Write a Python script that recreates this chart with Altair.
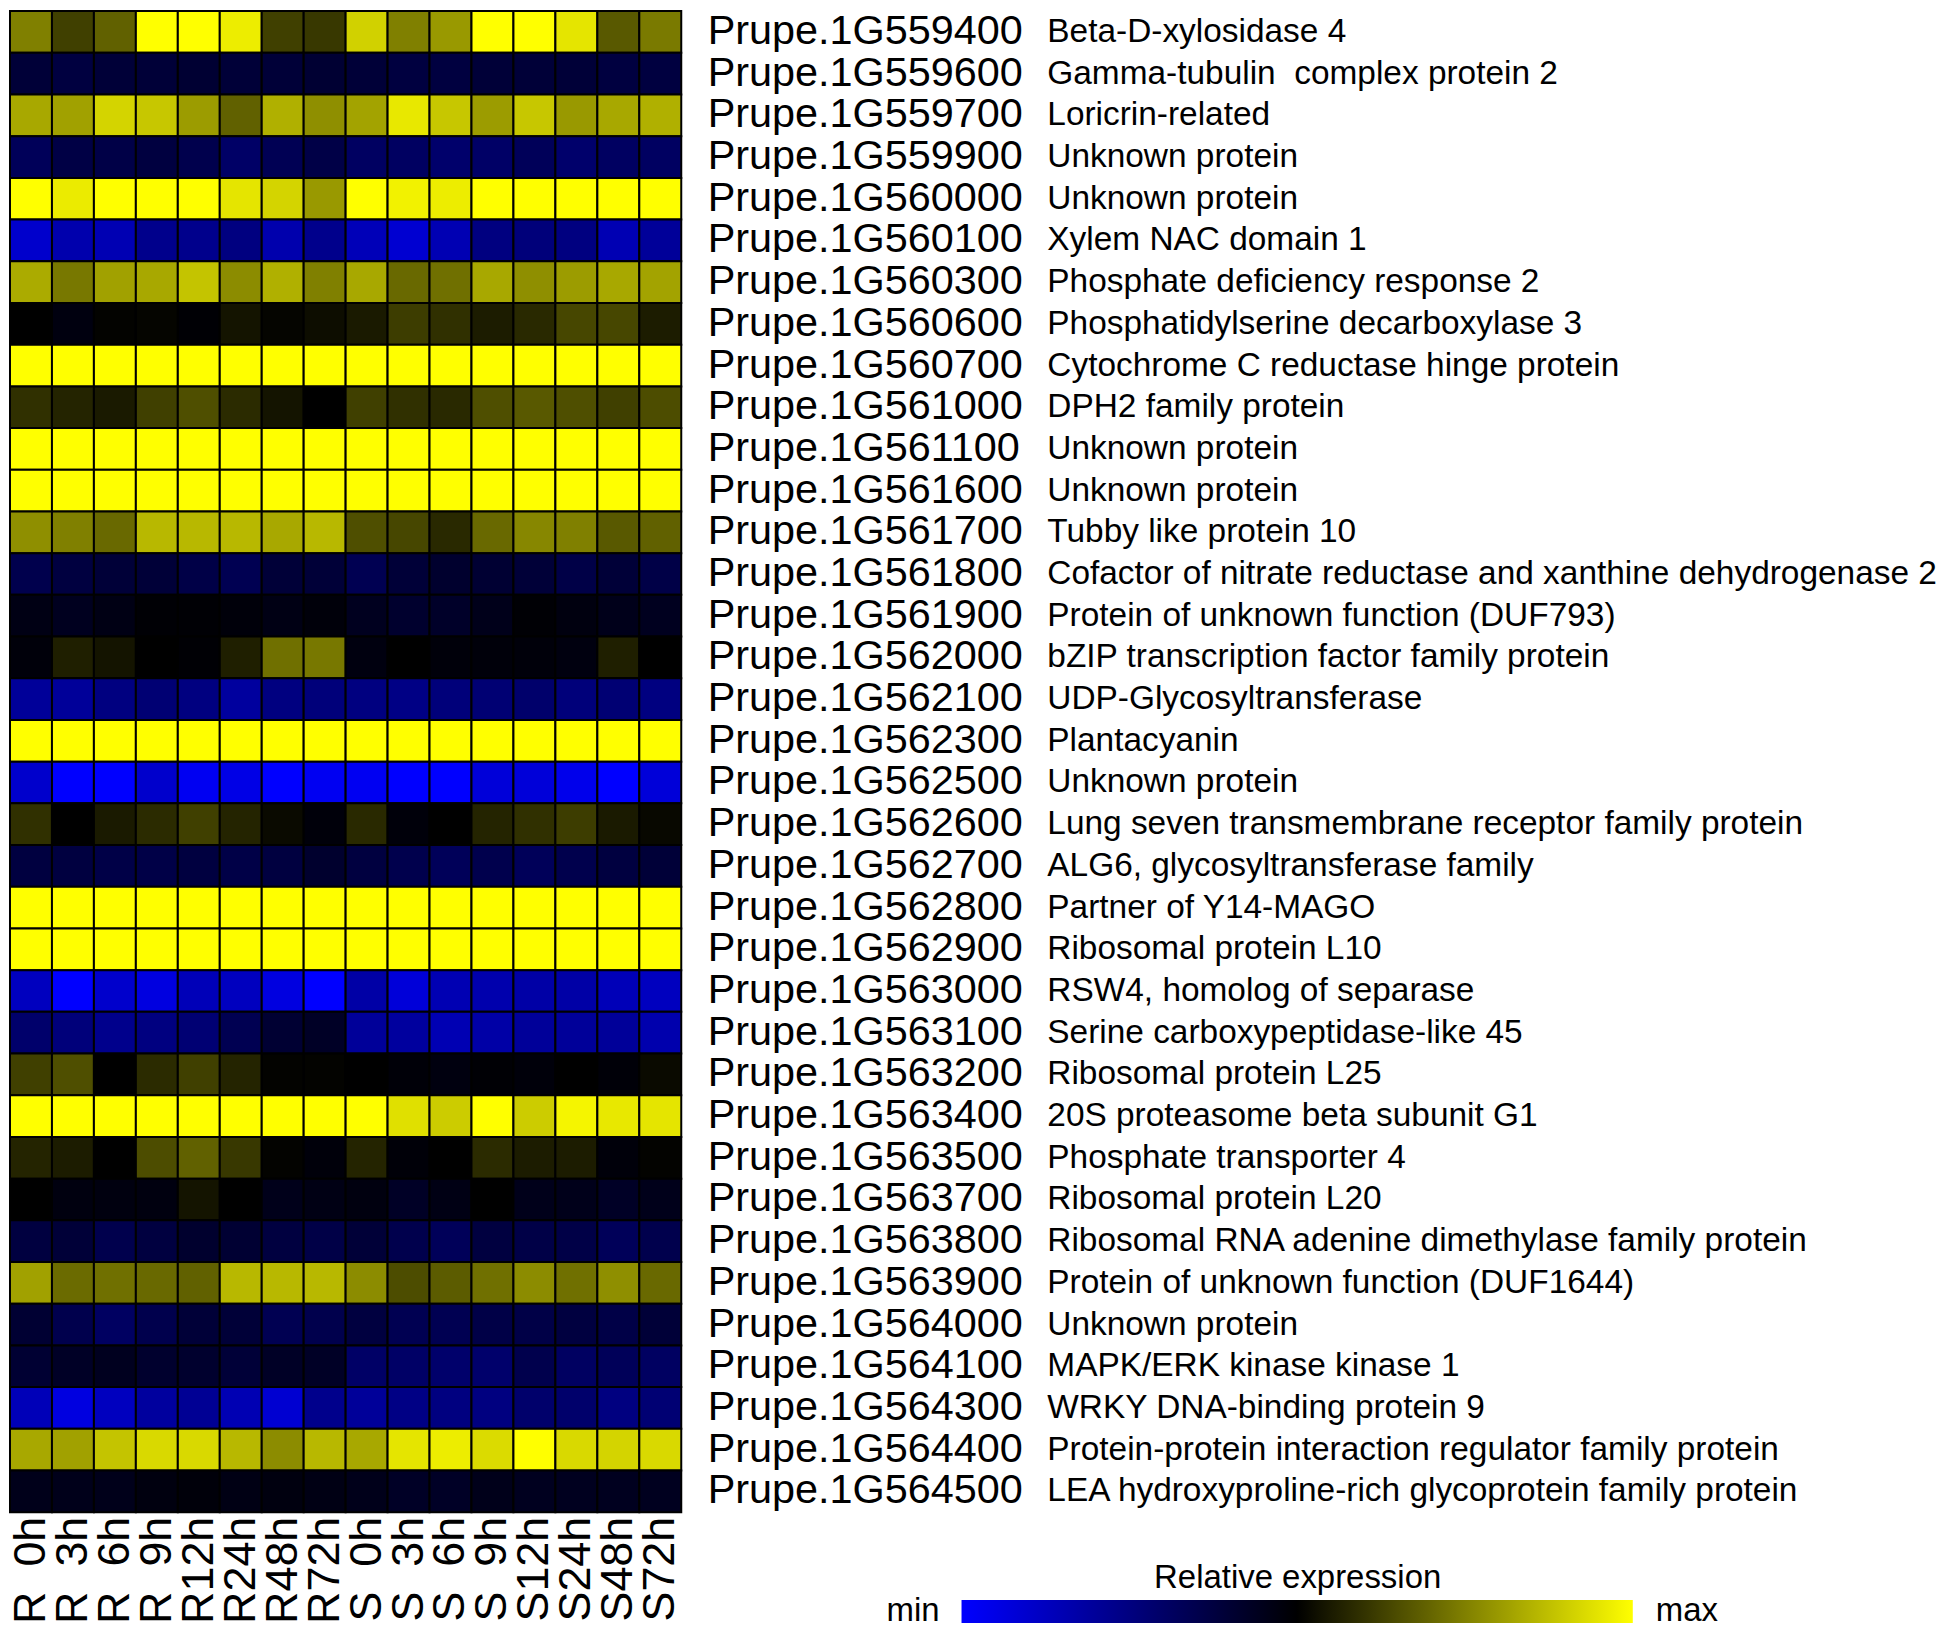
import altair as alt
import pandas as pd

FONT = "Liberation Sans"

columns = ["R\u00a0\u00a00h", "R\u00a0\u00a03h", "R\u00a0\u00a06h", "R\u00a0\u00a09h", "R12h", "R24h", "R48h", "R72h",
           "S\u00a0\u00a00h", "S\u00a0\u00a03h", "S\u00a0\u00a06h", "S\u00a0\u00a09h", "S12h", "S24h", "S48h", "S72h"]

genes = ["Prupe.1G559400", "Prupe.1G559600", "Prupe.1G559700", "Prupe.1G559900", "Prupe.1G560000",
         "Prupe.1G560100", "Prupe.1G560300", "Prupe.1G560600", "Prupe.1G560700", "Prupe.1G561000",
         "Prupe.1G561100", "Prupe.1G561600", "Prupe.1G561700", "Prupe.1G561800", "Prupe.1G561900",
         "Prupe.1G562000", "Prupe.1G562100", "Prupe.1G562300", "Prupe.1G562500", "Prupe.1G562600",
         "Prupe.1G562700", "Prupe.1G562800", "Prupe.1G562900", "Prupe.1G563000", "Prupe.1G563100",
         "Prupe.1G563200", "Prupe.1G563400", "Prupe.1G563500", "Prupe.1G563700", "Prupe.1G563800",
         "Prupe.1G563900", "Prupe.1G564000", "Prupe.1G564100", "Prupe.1G564300", "Prupe.1G564400",
         "Prupe.1G564500"]

descriptions = ["Beta-D-xylosidase 4", "Gamma-tubulin\u00a0 complex protein 2", "Loricrin-related",
                "Unknown protein", "Unknown protein", "Xylem NAC domain 1", "Phosphate deficiency response 2",
                "Phosphatidylserine decarboxylase 3", "Cytochrome C reductase hinge protein",
                "DPH2 family protein", "Unknown protein", "Unknown protein", "Tubby like protein 10",
                "Cofactor of nitrate reductase and xanthine dehydrogenase 2",
                "Protein of unknown function (DUF793)", "bZIP transcription factor family protein",
                "UDP-Glycosyltransferase", "Plantacyanin", "Unknown protein",
                "Lung seven transmembrane receptor family protein", "ALG6, glycosyltransferase family",
                "Partner of Y14-MAGO", "Ribosomal protein L10", "RSW4, homolog of separase",
                "Serine carboxypeptidase-like 45", "Ribosomal protein L25", "20S proteasome beta subunit G1",
                "Phosphate transporter 4", "Ribosomal protein L20",
                "Ribosomal RNA adenine dimethylase family protein",
                "Protein of unknown function (DUF1644)", "Unknown protein", "MAPK/ERK kinase kinase 1",
                "WRKY DNA-binding protein 9", "Protein-protein interaction regulator family protein",
                "LEA hydroxyproline-rich glycoprotein family protein"]

# relative expression: -1 = min (blue), 0 = black, 1 = max (yellow)
values = [
    [0.50, 0.25, 0.38, 1.00, 1.00, 0.93, 0.25, 0.22, 0.82, 0.50, 0.60, 1.00, 1.00, 0.90, 0.35, 0.48],
    [-0.22, -0.25, -0.22, -0.22, -0.20, -0.22, -0.22, -0.20, -0.22, -0.25, -0.25, -0.22, -0.22, -0.22, -0.25, -0.25],
    [0.66, 0.63, 0.83, 0.78, 0.61, 0.38, 0.69, 0.56, 0.64, 0.91, 0.78, 0.61, 0.78, 0.60, 0.66, 0.69],
    [-0.35, -0.27, -0.28, -0.25, -0.30, -0.40, -0.33, -0.28, -0.38, -0.38, -0.42, -0.40, -0.35, -0.42, -0.38, -0.38],
    [1.00, 0.92, 1.00, 1.00, 1.00, 0.90, 0.83, 0.60, 1.00, 0.95, 0.93, 1.00, 1.00, 1.00, 1.00, 1.00],
    [-0.80, -0.68, -0.70, -0.55, -0.55, -0.50, -0.68, -0.55, -0.72, -0.82, -0.70, -0.50, -0.48, -0.50, -0.70, -0.60],
    [0.67, 0.47, 0.63, 0.66, 0.77, 0.55, 0.69, 0.50, 0.66, 0.41, 0.44, 0.66, 0.56, 0.61, 0.66, 0.64],
    [0.00, -0.06, 0.01, 0.02, -0.02, 0.08, 0.02, 0.05, 0.10, 0.24, 0.19, 0.11, 0.16, 0.28, 0.28, 0.11],
    [1.00, 1.00, 1.00, 1.00, 1.00, 1.00, 1.00, 1.00, 1.00, 1.00, 1.00, 1.00, 1.00, 1.00, 1.00, 1.00],
    [0.19, 0.14, 0.10, 0.25, 0.31, 0.17, 0.08, 0.00, 0.25, 0.19, 0.16, 0.31, 0.35, 0.31, 0.25, 0.30],
    [1.00, 1.00, 1.00, 1.00, 1.00, 1.00, 1.00, 1.00, 1.00, 1.00, 1.00, 1.00, 1.00, 1.00, 1.00, 1.00],
    [1.00, 1.00, 1.00, 1.00, 1.00, 1.00, 1.00, 1.00, 1.00, 1.00, 1.00, 1.00, 1.00, 1.00, 1.00, 1.00],
    [0.56, 0.50, 0.41, 0.72, 0.72, 0.72, 0.66, 0.72, 0.31, 0.28, 0.16, 0.41, 0.53, 0.50, 0.35, 0.38],
    [-0.30, -0.25, -0.22, -0.22, -0.28, -0.32, -0.22, -0.22, -0.32, -0.22, -0.18, -0.20, -0.22, -0.28, -0.22, -0.28],
    [-0.08, -0.12, -0.08, -0.02, -0.02, -0.04, -0.08, -0.04, -0.12, -0.18, -0.16, -0.10, -0.02, -0.06, -0.10, -0.12],
    [-0.04, 0.12, 0.08, 0.00, -0.02, 0.12, 0.44, 0.47, -0.06, 0.00, -0.04, -0.04, -0.04, -0.06, 0.12, 0.00],
    [-0.60, -0.60, -0.50, -0.45, -0.50, -0.62, -0.50, -0.48, -0.50, -0.52, -0.48, -0.45, -0.42, -0.48, -0.45, -0.50],
    [1.00, 1.00, 1.00, 1.00, 1.00, 1.00, 1.00, 1.00, 1.00, 1.00, 1.00, 1.00, 1.00, 1.00, 1.00, 1.00],
    [-0.80, -1.00, -1.00, -0.80, -0.95, -0.90, -1.00, -0.95, -0.95, -1.00, -1.00, -0.85, -0.85, -0.92, -1.00, -0.85],
    [0.19, 0.00, 0.10, 0.17, 0.25, 0.14, 0.04, -0.04, 0.16, -0.04, 0.00, 0.14, 0.19, 0.24, 0.10, 0.03],
    [-0.25, -0.25, -0.28, -0.28, -0.25, -0.28, -0.25, -0.18, -0.25, -0.30, -0.35, -0.30, -0.35, -0.30, -0.25, -0.22],
    [1.00, 1.00, 1.00, 1.00, 1.00, 1.00, 1.00, 1.00, 1.00, 1.00, 1.00, 1.00, 1.00, 1.00, 1.00, 1.00],
    [1.00, 1.00, 1.00, 1.00, 1.00, 1.00, 1.00, 1.00, 1.00, 1.00, 1.00, 1.00, 1.00, 1.00, 1.00, 1.00],
    [-0.75, -1.00, -0.80, -0.88, -0.72, -0.75, -0.88, -1.00, -0.65, -0.85, -0.70, -0.68, -0.65, -0.65, -0.72, -0.75],
    [-0.42, -0.48, -0.55, -0.50, -0.45, -0.32, -0.20, -0.15, -0.60, -0.62, -0.70, -0.65, -0.60, -0.60, -0.60, -0.68],
    [0.25, 0.31, 0.00, 0.17, 0.25, 0.14, 0.01, 0.01, 0.00, -0.03, -0.06, -0.02, -0.04, 0.00, -0.03, 0.04],
    [1.00, 1.00, 1.00, 1.00, 1.00, 1.00, 1.00, 1.00, 1.00, 0.88, 0.80, 1.00, 0.80, 0.96, 0.91, 0.90],
    [0.14, 0.11, 0.00, 0.30, 0.38, 0.22, 0.01, -0.04, 0.14, -0.03, 0.00, 0.17, 0.11, 0.11, -0.04, 0.01],
    [0.00, -0.06, -0.06, -0.06, 0.08, 0.00, -0.10, -0.08, -0.06, -0.15, -0.08, 0.00, -0.10, -0.10, -0.15, -0.10],
    [-0.25, -0.22, -0.30, -0.25, -0.18, -0.20, -0.25, -0.28, -0.22, -0.30, -0.35, -0.25, -0.28, -0.28, -0.35, -0.30],
    [0.63, 0.42, 0.44, 0.41, 0.38, 0.72, 0.72, 0.72, 0.55, 0.30, 0.36, 0.44, 0.55, 0.44, 0.56, 0.41],
    [-0.20, -0.30, -0.38, -0.30, -0.22, -0.22, -0.32, -0.30, -0.25, -0.32, -0.32, -0.28, -0.28, -0.25, -0.28, -0.22],
    [-0.20, -0.15, -0.12, -0.18, -0.18, -0.22, -0.15, -0.15, -0.40, -0.40, -0.42, -0.42, -0.30, -0.38, -0.35, -0.38],
    [-0.72, -0.88, -0.75, -0.62, -0.58, -0.70, -0.82, -0.55, -0.60, -0.52, -0.50, -0.50, -0.42, -0.42, -0.50, -0.45],
    [0.66, 0.63, 0.77, 0.85, 0.85, 0.72, 0.55, 0.72, 0.66, 0.90, 0.93, 0.86, 1.00, 0.85, 0.83, 0.85],
    [-0.10, -0.10, -0.10, -0.06, -0.04, -0.08, -0.06, -0.08, -0.10, -0.15, -0.15, -0.10, -0.12, -0.12, -0.12, -0.12],
]

rows = []
for g, vals in zip(genes, values):
    for c, v in zip(columns, vals):
        rows.append({"gene": g, "col": c, "v": v})
df = pd.DataFrame(rows)
df_desc = pd.DataFrame({"gene": genes, "desc": descriptions})

W = 673
H = 1505

color_scale = alt.Scale(domain=[-1, 0, 1], range=["#0000ff", "#000000", "#ffff00"], interpolate="rgb")

heat = alt.Chart(df).mark_rect(stroke="black", strokeWidth=2).encode(
    x=alt.X("col:N", sort=columns, title=None,
            axis=alt.Axis(orient="bottom", labelAngle=270, labelAlign="right", labelBaseline="middle",
                          labelFontSize=45, labelFont=FONT, labelColor="black", labelPadding=4,
                          labelLimit=0, ticks=False, domain=False)),
    y=alt.Y("gene:N", sort=genes, title=None,
            axis=alt.Axis(orient="right", labelFontSize=41.5, labelFont=FONT, labelColor="black",
                          labelPadding=26, labelLimit=0, ticks=False, domain=False)),
    color=alt.Color("v:Q", scale=color_scale,
                    legend=alt.Legend(title="Relative expression", orient="none", direction="horizontal",
                                      legendX=954, legendY=1555, gradientLength=673, gradientThickness=23,
                                      gradientStrokeWidth=0, titleFontSize=33, titleFont=FONT,
                                      titleFontWeight="normal", titleColor="black", titleAnchor="middle",
                                      titleLimit=0, titlePadding=5, labelExpr="''", labelOpacity=0)),
)

desc = alt.Chart(df_desc).mark_text(align="left", baseline="middle", fontSize=33.5, font=FONT,
                                    color="black").encode(
    y=alt.Y("gene:N", sort=genes),
    x=alt.value(1040),
    text="desc:N",
)

minmax_min = alt.Chart(pd.DataFrame({"t": ["min"]})).mark_text(
    align="right", baseline="middle", fontSize=33, font=FONT, color="black").encode(
    x=alt.value(932), y=alt.value(1604), text="t:N")
minmax_max = alt.Chart(pd.DataFrame({"t": ["max"]})).mark_text(
    align="left", baseline="middle", fontSize=33, font=FONT, color="black").encode(
    x=alt.value(1650), y=alt.value(1604), text="t:N")

chart = alt.layer(heat, desc, minmax_min, minmax_max).properties(
    width=W, height=H, padding=0, background="white"
).configure_view(strokeWidth=0)

chart.save("out.html", embed_options={"renderer": "svg", "actions": False})
